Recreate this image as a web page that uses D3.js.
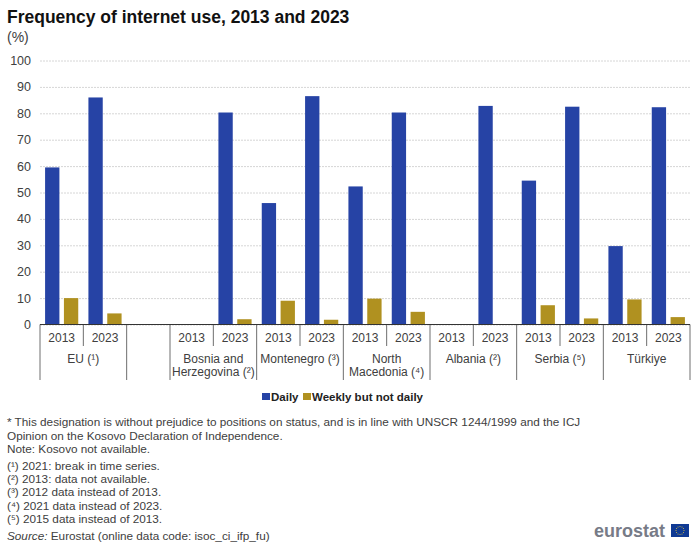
<!DOCTYPE html>
<html>
<head>
<meta charset="utf-8">
<script src="https://cdn.jsdelivr.net/npm/d3@7"></script>
<style>
  html, body { margin: 0; padding: 0; background: #fff; }
  svg { display: block; }
  text { font-family: "Liberation Sans", Arial, sans-serif; }
</style>
</head>
<body>
<svg id="chart" width="700" height="548"></svg>
<script>
// blank group keeps the empty slot after the EU
const groups = ['EU (¹)', '', 'Bosnia and|Herzegovina (²)', 'Montenegro (³)', 'North|Macedonia (⁴)', 'Albania (²)', 'Serbia (⁵)', 'Türkiye']
const groupYears = [2, 1, 2, 2, 2, 2, 2, 2]
const years = ['2013', '2023']
const seriesNames = ['Daily', 'Weekly but not daily']
const seriesColors = ['#2643a5', '#b09120']

// one entry per slot on the axis, null where nothing is drawn
const daily = [59.5, 86, null, null, 80.3, 46, 86.5, 52.3, 80.3, null, 82.8, 54.5, 82.5, 29.7, 82.3]
const weekly = [10, 4.2, null, null, 2, 9, 1.8, 9.8, 4.8, null, null, 7.3, 2.3, 9.5, 2.8]
const yTicks = [0, 10, 20, 30, 40, 50, 60, 70, 80, 90, 100]

const title = 'Frequency of internet use, 2013 and 2023'
const unit = '(%)'
const notes = [
  '* This designation is without prejudice to positions on status, and is in line with UNSCR 1244/1999 and the ICJ',
  'Opinion on the Kosovo Declaration of Independence.',
  'Note: Kosovo not available.'
]
const footnotes = [
  '(¹) 2021: break in time series.',
  '(²) 2013: data not available.',
  '(³) 2012 data instead of 2013.',
  '(⁴) 2021 data instead of 2023.',
  '(⁵) 2015 data instead of 2013.'
]

const svg = d3.select('#chart')
const textColor = '#404040'
const plot = { left: 40, right: 690, top: 60.5, bottom: 324.5 }

const slots = d3.range(daily.length)
const x = d3.scaleBand().domain(slots).range([plot.left, plot.right])
const inner = d3.scaleBand().domain(seriesNames).range([0, x.bandwidth()]).paddingInner(0.24).paddingOuter(0.27)
const y = d3.scaleLinear().domain([0, 100]).range([plot.bottom, plot.top])

// Title and unit
svg.append('text').attr('x', 7).attr('y', 23).attr('font-size', 17.5).attr('font-weight', 'bold').attr('fill', '#111').text(title)
svg.append('text').attr('x', 7).attr('y', 42).attr('font-size', 14).attr('fill', textColor).text(unit)

// Gridlines and y labels
const yAxis = d3.axisLeft(y).tickValues(yTicks).tickSize(plot.left - plot.right).tickPadding(9)
const yG = svg.append('g').attr('transform', `translate(${plot.left},0)`).call(yAxis)
yG.select('.domain').remove()
yG.selectAll('.tick line').attr('stroke', '#d6d6d6').attr('stroke-dasharray', '2,1')
yG.selectAll('.tick text').attr('font-size', 12.5).attr('fill', textColor).style('font-family', '"Liberation Sans", Arial, sans-serif')

// Bars
const series = [daily, weekly]
series.forEach((values, i) => {
  svg.append('g')
    .selectAll('rect')
    .data(slots.filter((s) => values[s] !== null))
    .enter()
    .append('rect')
    .attr('x', (s) => x(s) + inner(seriesNames[i]))
    .attr('width', inner.bandwidth())
    .attr('y', (s) => y(values[s]))
    .attr('height', (s) => y(0) - y(values[s]))
    .attr('fill', seriesColors[i])
})

// Category axis: years on the first row, groups below
const axisG = svg.append('g')
const sepColor = '#6e6e6e'
const yearLineEnd = 346
const groupLineEnd = 380

let slot = 0
groups.forEach((name, g) => {
  const count = groupYears[g]
  const left = x(slot)
  const right = left + count * x.bandwidth()

  axisG.append('line').attr('x1', left).attr('x2', left).attr('y1', plot.bottom).attr('y2', groupLineEnd).attr('stroke', sepColor)

  if (name !== '') {
    years.forEach((yr, k) => {
      const sx = x(slot + k)
      if (k > 0) {
        axisG.append('line').attr('x1', sx).attr('x2', sx).attr('y1', plot.bottom).attr('y2', yearLineEnd).attr('stroke', sepColor)
      }
      axisG.append('text').attr('x', sx + x.bandwidth() / 2).attr('y', 342).attr('text-anchor', 'middle')
        .attr('font-size', 12).attr('fill', textColor).text(yr)
    })
    name.split('|').forEach((part, l) => {
      axisG.append('text').attr('x', (left + right) / 2).attr('y', 363 + l * 13).attr('text-anchor', 'middle')
        .attr('font-size', 12).attr('fill', textColor).text(part)
    })
  }
  slot += count
})
axisG.append('line').attr('x1', plot.right).attr('x2', plot.right).attr('y1', plot.bottom).attr('y2', groupLineEnd).attr('stroke', sepColor)
axisG.append('line').attr('x1', plot.left).attr('x2', plot.right).attr('y1', plot.bottom).attr('y2', plot.bottom).attr('stroke', '#333')

// Legend
const legendX = [262, 303]
seriesNames.forEach((name, i) => {
  svg.append('rect').attr('x', legendX[i]).attr('y', 393).attr('width', 8).attr('height', 7).attr('fill', seriesColors[i])
  svg.append('text').attr('x', legendX[i] + 9).attr('y', 401).attr('font-size', 11.5).attr('font-weight', 'bold').attr('fill', '#222').text(name)
})

// Notes
const noteY = [426, 439.5, 453]
notes.forEach((t, i) => {
  svg.append('text').attr('x', 7).attr('y', noteY[i]).attr('font-size', 11.75).attr('fill', textColor).text(t)
})
footnotes.forEach((t, i) => {
  svg.append('text').attr('x', 7).attr('y', 470 + i * 13.2).attr('font-size', 11.75).attr('fill', textColor).text(t)
})
const source = svg.append('text').attr('x', 7).attr('y', 540).attr('font-size', 11.75).attr('fill', textColor)
source.append('tspan').attr('font-style', 'italic').text('Source:')
source.append('tspan').text(' Eurostat (online data code: isoc_ci_ifp_fu)')

// Logo
svg.append('text').attr('x', 594).attr('y', 537).attr('font-size', 18).attr('font-weight', 'bold').attr('fill', '#777b87').text('eurostat')
svg.append('rect').attr('x', 671).attr('y', 524).attr('width', 18).attr('height', 13).attr('fill', '#0f3a94')
const stars = d3.range(12).map((i) => (i * Math.PI) / 6)
svg.append('g').selectAll('circle').data(stars).enter().append('circle')
  .attr('cx', (a) => 680 + 4 * Math.cos(a))
  .attr('cy', (a) => 530.5 + 4 * Math.sin(a))
  .attr('r', 0.5)
  .attr('fill', '#e6c93c')
</script>
</body>
</html>
